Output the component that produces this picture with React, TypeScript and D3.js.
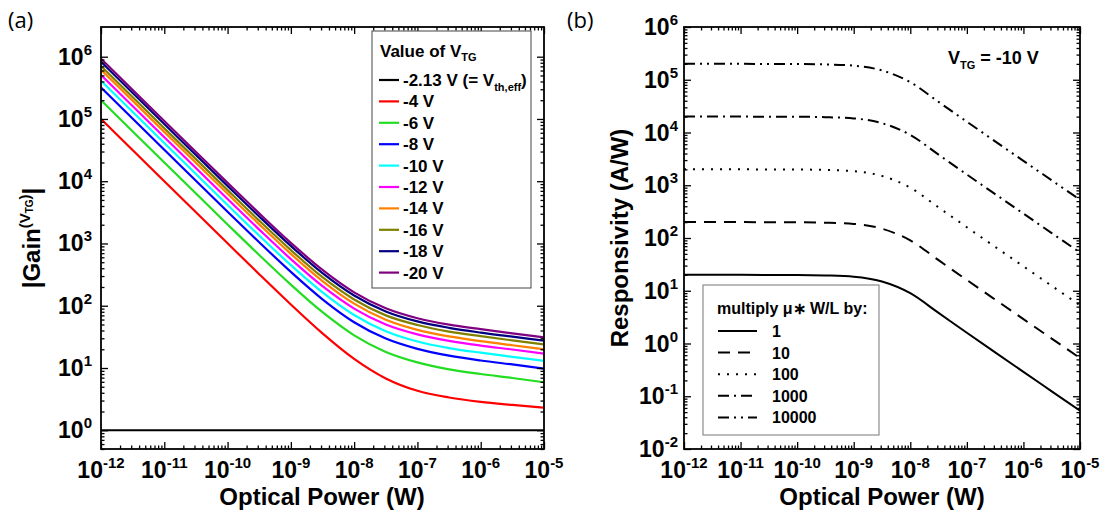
import React, { useEffect, useRef } from "react";
import * as d3 from "d3";

// ---- panel (a): |Gain| vs optical power, one series per top-gate voltage ----
const powerExpA = [-12, -11, -10, -9.5, -9, -8.5, -8, -7.5, -7, -6.5, -6, -5.5, -5];
const gainLabels = ["-2.13 V (= V", "-4 V", "-6 V", "-8 V", "-10 V", "-12 V", "-14 V", "-16 V", "-18 V", "-20 V"];
const gainColors = ["#000000", "#ff0000", "#22dd22", "#0000ff", "#00ffff", "#ff00ff", "#ff8000", "#808000", "#000080", "#800080"];
const gainVth = [1, 1, 1, 1, 1, 1, 1, 1, 1, 1, 1, 1, 1];
const gain4 = [1.0e5, 1.0e4, 1006, 321, 104.8, 36, 14, 6.8, 4.3, 3.36, 2.86, 2.55, 2.3];
const gain6 = [2.0e5, 2.0e4, 2024, 653, 218, 78.7, 33.5, 18.1, 12.3, 9.5, 8.0, 6.9, 5.9];
const gain8 = [3.2e5, 3.2e4, 3239, 1046, 350, 127, 54.4, 29.7, 20.3, 15.8, 13.2, 11.4, 9.8];
const gain10 = [4.1e5, 4.1e4, 4152, 1341, 449, 164, 71, 39, 26.7, 20.9, 17.6, 15.1, 13];
const gain12 = [5.1e5, 5.1e4, 5168, 1672, 561, 206, 90, 50, 34.7, 27.3, 22.9, 19.8, 17];
const gain14 = [6.2e5, 6.2e4, 6280, 2029, 680, 249, 108, 59.6, 41, 32.2, 27, 23.2, 20];
const gain16 = [7.1e5, 7.1e4, 7196, 2328, 782, 287, 126, 70, 49, 38.4, 32.4, 27.8, 24];
const gain18 = [8.3e5, 8.3e4, 8409, 2720, 913, 334, 146, 81, 56, 44.1, 37, 31.9, 27.5];
const gain20 = [9.3e5, 9.3e4, 9423, 3049, 1024, 376, 164, 91, 63, 49.7, 42, 36, 31];
const gainSeries = [gainVth, gain4, gain6, gain8, gain10, gain12, gain14, gain16, gain18, gain20];

// ---- panel (b): responsivity at VTG = -10 V for scaled mobility*W/L ----
const powerExpB = [-12, -11, -10, -9.5, -9, -8.5, -8, -7.5, -7, -6.5, -6, -5.5, -5];
const respLabels = ["1", "10", "100", "1000", "10000"];
const respDashes = ["none", "12,8", "2,7", "11,5,2,5", "11,5,2,5,2,5"];
const resp1 = [20, 20, 19.9, 19.5, 18.5, 15, 9, 3.8, 1.6, 0.68, 0.29, 0.124, 0.053];
const resp10 = [200, 200, 199, 195, 185, 150, 90, 38, 16, 6.8, 2.9, 1.24, 0.53];
const resp100 = [2000, 2000, 1990, 1950, 1850, 1500, 900, 380, 160, 68, 29, 12.4, 5.3];
const resp1000 = [2e4, 2e4, 1.99e4, 1.95e4, 1.85e4, 1.5e4, 9000, 3800, 1600, 680, 290, 124, 53];
const resp10000 = [2e5, 2e5, 1.99e5, 1.95e5, 1.85e5, 1.5e5, 9e4, 3.8e4, 1.6e4, 6800, 2900, 1240, 530];
const respSeries = [resp1, resp10, resp100, resp1000, resp10000];

const FONT = "'Liberation Sans', Arial, sans-serif";

type Sel = d3.Selection<SVGGElement, unknown, null, undefined>;

function logFrame(g: Sel, x: d3.ScaleLogarithmic<number, number>, y: d3.ScaleLogarithmic<number, number>,
  xExp: number[], yExp: number[], labelRight: number) {
  const [l, r] = x.range();
  const [b, t] = y.range();
  const minors = (exps: number[]) => {
    const out: number[] = [];
    for (let i = 0; i < exps.length - 1; i++) for (let m = 2; m <= 9; m++) out.push(m * 10 ** exps[i]);
    return out;
  };
  const xMaj = xExp.map(e => 10 ** e);
  const yMaj = yExp.map(e => 10 ** e);
  const yMin = minors([yExp[0] - 1, ...yExp]).filter(v => v <= y.domain()[1] && v >= y.domain()[0]);
  const add = (axis: d3.Axis<d3.NumberValue>, tr: string) => {
    g.append("g").attr("transform", tr).call(axis as any)
      .call(s => s.select(".domain").remove())
      .call(s => s.selectAll("line").attr("stroke", "#000").attr("stroke-width", 1.3));
  };
  const blank = () => "";
  add(d3.axisBottom(x).tickValues(xMaj).tickSize(-7).tickFormat(blank), `translate(0,${b})`);
  add(d3.axisBottom(x).tickValues(minors(xExp)).tickSize(-3.5).tickFormat(blank), `translate(0,${b})`);
  add(d3.axisTop(x).tickValues(xMaj).tickSize(-7).tickFormat(blank), `translate(0,${t})`);
  add(d3.axisTop(x).tickValues(minors(xExp)).tickSize(-3.5).tickFormat(blank), `translate(0,${t})`);
  add(d3.axisLeft(y).tickValues(yMaj).tickSize(-7).tickFormat(blank), `translate(${l},0)`);
  add(d3.axisLeft(y).tickValues(yMin).tickSize(-3.5).tickFormat(blank), `translate(${l},0)`);
  add(d3.axisRight(y).tickValues(yMaj).tickSize(-7).tickFormat(blank), `translate(${r},0)`);
  add(d3.axisRight(y).tickValues(yMin).tickSize(-3.5).tickFormat(blank), `translate(${r},0)`);

  g.append("rect").attr("x", l).attr("y", t).attr("width", r - l).attr("height", b - t)
    .attr("fill", "none").attr("stroke", "#000").attr("stroke-width", 1.8);

  const pow = (sel: d3.Selection<SVGTextElement, number, SVGGElement, unknown>) => {
    sel.append("tspan").text("10");
    sel.append("tspan").attr("dy", -10).attr("font-size", 15).text(e => String(e));
  };
  g.append("g").selectAll("text").data(xExp).join("text")
    .attr("x", e => x(10 ** e)).attr("y", b + 29)
    .attr("text-anchor", "middle").attr("font-size", 23).attr("font-weight", "bold")
    .attr("font-family", FONT).call(pow);
  g.append("g").selectAll("text").data(yExp).join("text")
    .attr("x", labelRight).attr("y", e => y(10 ** e) + 8)
    .attr("text-anchor", "end").attr("font-size", 23).attr("font-weight", "bold")
    .attr("font-family", FONT).call(pow);
}

export default function App() {
  const ref = useRef<SVGSVGElement>(null);

  useEffect(() => {
    const svg = d3.select(ref.current!);
    svg.selectAll("*").remove();
    const root = svg.append("g") as unknown as Sel;

    // ---------- panel (a) ----------
    const xa = d3.scaleLog().domain([1e-12, 1e-5]).range([101, 544]);
    const ya = d3.scaleLog().domain([0.5, 3e6]).range([449, 27]);
    const ga = root.append("g");
    ga.append("clipPath").attr("id", "clipA").append("rect")
      .attr("x", 101).attr("y", 27).attr("width", 443).attr("height", 422);
    const lineA = d3.line<number>()
      .x((_, i) => xa(10 ** powerExpA[i])).y(v => ya(v)).curve(d3.curveMonotoneX);
    ga.append("g").attr("clip-path", "url(#clipA)").selectAll("path").data(gainSeries).join("path")
      .attr("d", d => lineA(d)).attr("fill", "none")
      .attr("stroke", (_, i) => gainColors[i]).attr("stroke-width", 2.2);
    logFrame(ga, xa, ya, d3.range(-12, -4), d3.range(0, 7), 92);

    // legend (a)
    const la = ga.append("g").attr("font-family", FONT).attr("font-weight", "bold").attr("font-size", 17);
    la.append("rect").attr("x", 372).attr("y", 31).attr("width", 159).attr("height", 257)
      .attr("fill", "#fff").attr("stroke", "#444").attr("stroke-width", 1);
    const lt = la.append("text").attr("x", 380).attr("y", 57);
    lt.append("tspan").text("Value of V");
    lt.append("tspan").attr("font-size", 11).attr("dy", 4).text("TG");
    gainLabels.forEach((lab, i) => {
      const yy = 80 + i * 21.4;
      la.append("line").attr("x1", 379).attr("x2", 399).attr("y1", yy).attr("y2", yy)
        .attr("stroke", gainColors[i]).attr("stroke-width", 2.2);
      const t = la.append("text").attr("x", 403).attr("y", yy + 6);
      t.append("tspan").text(lab);
      if (i === 0) {
        t.append("tspan").attr("font-size", 11).attr("dy", 5).text("th,eff");
        t.append("tspan").attr("dy", -5).text(")");
      }
    });

    // titles (a)
    ga.append("text").attr("x", 322).attr("y", 505).attr("text-anchor", "middle")
      .attr("font-family", FONT).attr("font-weight", "bold").attr("font-size", 24).text("Optical Power (W)");
    const yta = ga.append("text").attr("transform", "translate(40,238) rotate(-90)")
      .attr("text-anchor", "middle").attr("font-family", FONT).attr("font-weight", "bold").attr("font-size", 24);
    yta.append("tspan").text("|Gain");
    yta.append("tspan").attr("font-size", 15).attr("dy", -10).text("(V");
    yta.append("tspan").attr("font-size", 10).attr("dy", 3).text("TG");
    yta.append("tspan").attr("font-size", 15).attr("dy", -3).text(")");
    yta.append("tspan").attr("dy", 10).text("|");
    root.append("text").attr("x", 8).attr("y", 28).attr("font-family", "'Open Sans', sans-serif")
      .attr("font-size", 22).text("(a)");

    // ---------- panel (b) ----------
    const xb = d3.scaleLog().domain([1e-12, 1e-5]).range([684, 1080]);
    const yb = d3.scaleLog().domain([1e-2, 1e6]).range([449, 27]);
    const gb = root.append("g");
    gb.append("clipPath").attr("id", "clipB").append("rect")
      .attr("x", 684).attr("y", 27).attr("width", 396).attr("height", 422);
    const lineB = d3.line<number>()
      .x((_, i) => xb(10 ** powerExpB[i])).y(v => yb(v)).curve(d3.curveMonotoneX);
    gb.append("g").attr("clip-path", "url(#clipB)").selectAll("path").data(respSeries).join("path")
      .attr("d", d => lineB(d)).attr("fill", "none").attr("stroke", "#000")
      .attr("stroke-width", 2).attr("stroke-dasharray", (_, i) => respDashes[i]);
    logFrame(gb, xb, yb, d3.range(-12, -4), d3.range(-2, 7), 678);

    // legend (b)
    const lb = gb.append("g").attr("font-family", FONT).attr("font-weight", "bold").attr("font-size", 16);
    lb.append("rect").attr("x", 703).attr("y", 285).attr("width", 176).attr("height", 150)
      .attr("fill", "#fff").attr("stroke", "#777").attr("stroke-width", 1);
    lb.append("text").attr("x", 717).attr("y", 314).text("multiply \u03bc\u2217 W/L by:");
    respLabels.forEach((lab, i) => {
      const yy = 331 + i * 21.6;
      lb.append("line").attr("x1", 718).attr("x2", 757).attr("y1", yy).attr("y2", yy)
        .attr("stroke", "#000").attr("stroke-width", 2).attr("stroke-dasharray", respDashes[i]);
      lb.append("text").attr("x", 772).attr("y", yy + 6).text(lab);
    });

    // annotation + titles (b)
    const vt = gb.append("text").attr("x", 948).attr("y", 64)
      .attr("font-family", FONT).attr("font-weight", "bold").attr("font-size", 18);
    vt.append("tspan").text("V");
    vt.append("tspan").attr("font-size", 11).attr("dy", 5).text("TG");
    vt.append("tspan").attr("dy", -5).text(" = -10 V");
    gb.append("text").attr("x", 882).attr("y", 505).attr("text-anchor", "middle")
      .attr("font-family", FONT).attr("font-weight", "bold").attr("font-size", 24).text("Optical Power (W)");
    gb.append("text").attr("transform", "translate(628,238) rotate(-90)").attr("text-anchor", "middle")
      .attr("font-family", FONT).attr("font-weight", "bold").attr("font-size", 24).text("Responsivity (A/W)");
    root.append("text").attr("x", 567).attr("y", 28).attr("font-family", "'Open Sans', sans-serif")
      .attr("font-size", 22).text("(b)");
  }, []);

  return (
    <svg ref={ref} width={1106} height={514}
      style={{ position: "absolute", left: 0, top: 0, background: "#fff" }} />
  );
}
